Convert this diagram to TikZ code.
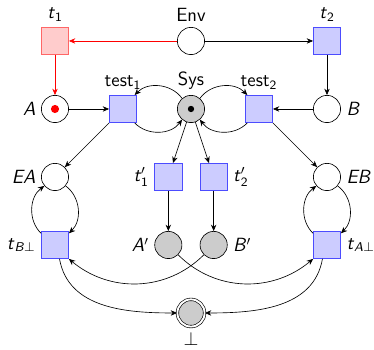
\documentclass[tikz,border=0pt]{standalone}
\usepackage{amsmath}
\usetikzlibrary{arrows.meta}
\newcommand{\sit}[1]{\textsf{\textit{#1}}}
\begin{document}
\begin{tikzpicture}[font=\sffamily\large,>={Stealth[length=4pt,width=3.4pt]},
	place/.style={circle,draw,minimum size=0.6cm,inner sep=0pt},
	marked/.style={place,fill=gray!40},
	trans/.style={rectangle,draw=blue!70,fill=blue!20,minimum size=0.6cm,inner sep=0pt},
	redtrans/.style={rectangle,draw=red!60,fill=red!20,minimum size=0.6cm,inner sep=0pt}]
	\useasboundingbox (-1.213,-6.795) rectangle (7.037,0.904);
	% environment
	\node[place,label=above:Env] (env) at (3,0) {};
	\node[redtrans,label=above:{\sit{t}$_{\textsf{1}}$}] (t1) at (0,0) {};
	\node[trans,label=above:{\sit{t}$_{\textsf{2}}$}] (t2) at (6,0) {};
	% system
	\node[place,label=left:\sit{A}] (A) at (0,-1.5) {};
	\node[trans,label=above:{test$_{\textsf{1}}$}] (test1) at (1.5,-1.5) {};
	\node[marked,label=above:Sys] (sys) at (3,-1.5) {};
	\node[trans,label=above:{test$_{\textsf{2}}$}] (test2) at (4.5,-1.5) {};
	\node[place,label=right:\sit{B}] (B) at (6,-1.5) {};
	\fill[red] (A) circle (0.09);
	\fill (sys) circle (0.07);
	\node[place,label=left:\sit{EA}] (EA) at (0,-3) {};
	\node[trans,label=left:{\sit{t}$'_{\textsf{1}}$}] (t1p) at (2.5,-3) {};
	\node[trans,label=right:{\sit{t}$'_{\textsf{2}}$}] (t2p) at (3.5,-3) {};
	\node[place,label=right:\sit{EB}] (EB) at (6,-3) {};
	\node[trans,label=left:{\sit{t}$_{\sit{B}\bot}$}] (tB) at (0,-4.5) {};
	\node[marked,label=left:{\sit{A}$'$}] (Ap) at (2.5,-4.5) {};
	\node[marked,label=right:{\sit{B}$'$}] (Bp) at (3.5,-4.5) {};
	\node[trans,label=right:{\sit{t}$_{\sit{A}\bot}$}] (tA) at (6,-4.5) {};
	\node[place,fill=gray!40,double,double distance=1.2pt,minimum size=0.6cm,label=below:$\bot$] (bot) at (3,-6) {};
	% arcs
	\draw[->,red] (env)--(t1);
	\draw[->] (env)--(t2);
	\draw[->,red] (t1)--(A);
	\draw[->] (t2)--(B);
	\draw[->] (A)--(test1);
	\draw[->] (B)--(test2);
	\draw[->] (sys) to[bend right=50] (test1);
	\draw[->] (test1) to[bend right=50] (sys);
	\draw[->] (sys) to[bend left=50] (test2);
	\draw[->] (test2) to[bend left=50] (sys);
	\draw[->] (test1)--(EA);
	\draw[->] (test2)--(EB);
	\draw[->] (sys)--(t1p);
	\draw[->] (sys)--(t2p);
	\draw[->] (t1p)--(Ap);
	\draw[->] (t2p)--(Bp);
	\draw[->] (EA) to[bend left=50] (tB);
	\draw[->] (tB) to[bend left=50] (EA);
	\draw[->] (EB) to[bend left=50] (tA);
	\draw[->] (tA) to[bend left=50] (EB);
	\draw[->] (Ap) to[out=-45,in=-140] (tA.south west);
	\draw[->] (Bp) to[out=-135,in=-40] (tB.south east);
	\draw[->] (tB.south) ++(0.1,0) to[out=-80,in=180] (bot);
	\draw[->] (tA.south) ++(-0.1,0) to[out=-100,in=0] (bot);
\end{tikzpicture}
\end{document}
